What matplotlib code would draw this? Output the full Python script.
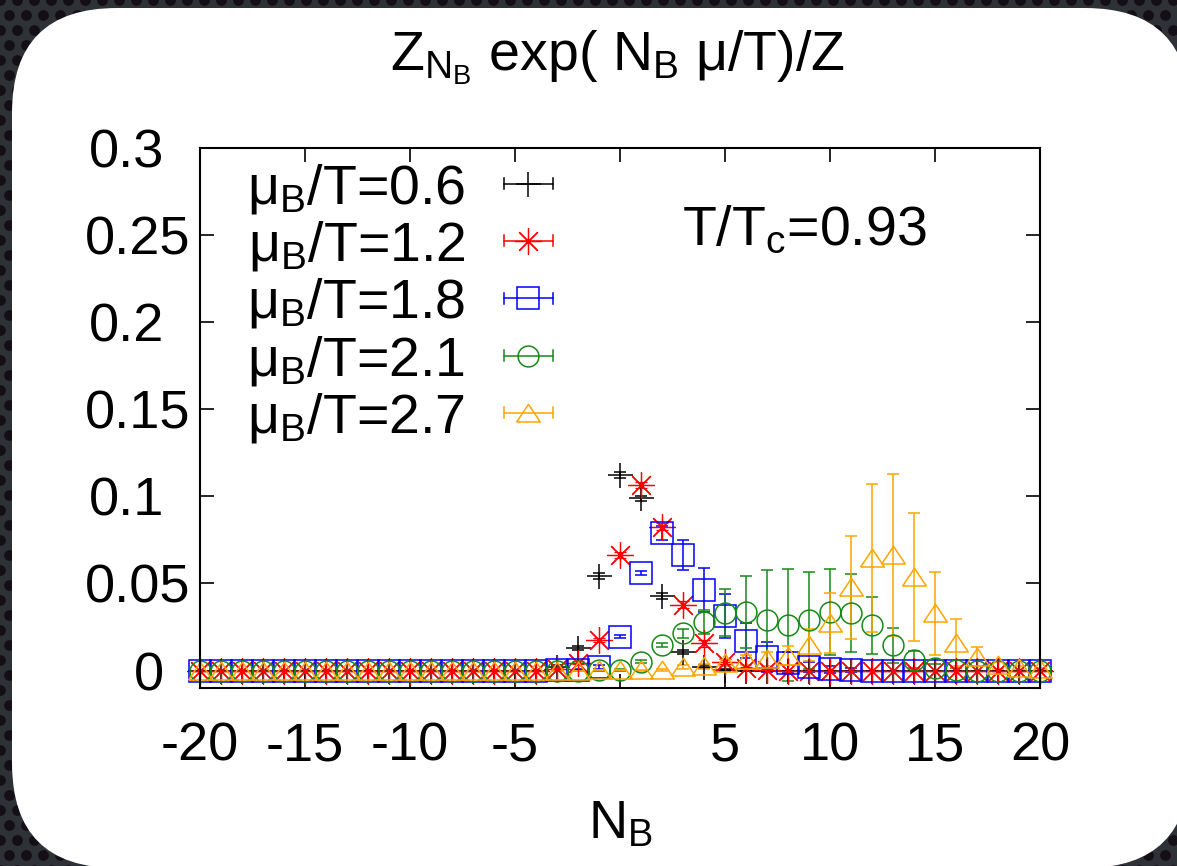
import numpy as np
import matplotlib
matplotlib.use("Agg")
import matplotlib.pyplot as plt
from matplotlib.patches import FancyBboxPatch
from matplotlib.lines import Line2D
from matplotlib.legend_handler import HandlerBase
from matplotlib.transforms import ScaledTranslation

plt.rcParams['font.family'] = ['Liberation Sans', 'DejaVu Sans']
plt.rcParams['mathtext.fontset'] = 'custom'
plt.rcParams['mathtext.rm'] = 'Liberation Sans'
plt.rcParams['mathtext.it'] = 'Liberation Sans:italic'

# ---- data ----
N_B = list(range(-20, 21))

#              -20 ... -4 (17 zeros)          -3      -2      -1      0       1       2       3       4       5       6       7       8       9      10      11      12      13      14      15      16      17      18      19      20
mu06     = [0]*17 + [0.002, 0.013, 0.0543, 0.1123, 0.099, 0.0428, 0.0108, 0.0022, 0.0005, 0, 0, 0, 0, 0, 0, 0, 0, 0, 0, 0, 0, 0, 0, 0]
mu06_err = [0]*17 + [0.001, 0.001, 0.0015, 0.0015, 0.0015, 0.0015, 0.001, 0.001, 0.0005, 0, 0, 0, 0, 0, 0, 0, 0, 0, 0, 0, 0, 0, 0, 0]

mu12     = [0]*17 + [0.001, 0.0045, 0.0176, 0.0664, 0.1066, 0.0826, 0.0377, 0.0157, 0.0051, 0.0013, 0.0004, 0, 0, 0, 0, 0, 0, 0, 0, 0, 0, 0, 0, 0]
mu12_err = [0]*17 + [0.0005, 0.001, 0.001, 0.0015, 0.0015, 0.002, 0.002, 0.002, 0.0015, 0.001, 0.0005, 0, 0, 0, 0, 0, 0, 0, 0, 0, 0, 0, 0, 0]

mu18     = [0]*17 + [0.0002, 0.0006, 0.002, 0.0195, 0.056, 0.079, 0.0664, 0.0463, 0.0313, 0.0172, 0.008, 0.0044, 0.002, 0.0008, 0.0003, 0, 0, 0, 0, 0, 0, 0, 0, 0]
mu18_err = [0]*17 + [0.0002, 0.0005, 0.001, 0.001, 0.001, 0.004, 0.0088, 0.0124, 0.0124, 0.01, 0.0086, 0.006, 0.003, 0.002, 0.001, 0, 0, 0, 0, 0, 0, 0, 0, 0]

mu21     = [0]*17 + [0, 0, 0.0002, 0.0005, 0.005, 0.0147, 0.0214, 0.028, 0.0333, 0.0338, 0.029, 0.0262, 0.0288, 0.0336, 0.033, 0.026, 0.0144, 0.0062, 0.0016, 0.0005, 0, 0, 0, 0]
mu21_err = [0]*17 + [0, 0, 0.0002, 0.0005, 0.0008, 0.001, 0.0027, 0.007, 0.0134, 0.0207, 0.029, 0.032, 0.028, 0.0245, 0.0225, 0.0164, 0.0099, 0.005, 0.002, 0.001, 0, 0, 0, 0]

mu27     = [0]*17 + [0, 0, 0.0002, 0.0002, 0.0002, 0.0005, 0.002, 0.0025, 0.0045, 0.006, 0.0068, 0.0085, 0.0147, 0.0272, 0.0478, 0.0645, 0.0664, 0.0539, 0.0329, 0.016, 0.008, 0.003, 0.0015, 0.0008]
mu27_err = [0]*17 + [0, 0, 0, 0, 0.0002, 0.0005, 0.001, 0.0015, 0.002, 0.003, 0.004, 0.0054, 0.009, 0.0172, 0.0294, 0.0425, 0.0463, 0.0367, 0.0239, 0.0134, 0.0054, 0.002, 0.001, 0.0005]

labels = ['0.6', '1.2', '1.8', '2.1', '2.7']
colors = ['black', '#ff0000', '#0000ff', '#168a16', '#ffa500']
tri = [(-1, -0.72), (1, -0.72), (0, 0.78), (-1, -0.72)]
markers = ['+', (8, 2, 0), 's', 'o', tri]
sizes = [18, 19, 16, 15, 17]

yticks = [0, 0.05, 0.1, 0.15, 0.2, 0.25, 0.3]
ytick_labels = ['0', '0.05', '0.1', '0.15', '0.2', '0.25', '0.3']
xticks = [-20, -15, -10, -5, 0, 5, 10, 15, 20]
xtick_labels = ['-20', '-15', '-10', '-5', '', '5', '10', '15', '20']

FS = 39


class HandlerGnu(HandlerBase):
    # gnuplot style key sample: horizontal bar with end caps and the point
    def create_artists(self, legend, orig, xdescent, ydescent, width, height, fontsize, trans):
        c = orig.get_color()
        y = (height - ydescent) / 2.0
        x0, x1 = -xdescent, width - xdescent
        cap = 4.0
        arts = [Line2D([x0, x1], [y, y], color=c, lw=1.1),
                Line2D([x0, x0], [y - cap, y + cap], color=c, lw=1.1),
                Line2D([x1, x1], [y - cap, y + cap], color=c, lw=1.1),
                Line2D([(x0 + x1) / 2], [y], marker=orig.get_marker(), ms=orig.get_markersize(),
                       mfc='none', mec=c, mew=orig.get_markeredgewidth(), ls='none')]
        for a in arts:
            a.set_transform(trans)
        return arts


fig = plt.figure(figsize=(11.77, 8.66), dpi=100)
fig.patch.set_facecolor('#2e3236')

# background: dark perforated texture + white rounded card
bg = fig.add_axes([0, 0, 1, 1], zorder=-1)
bg.set_xlim(0, 1177)
bg.set_ylim(866, 0)
bg.axis('off')
gx, gy = np.meshgrid(np.arange(0, 1190, 17.0), np.arange(0, 880, 15.0))
gx = gx + (np.arange(gy.shape[0])[:, None] % 2) * 8.5
bg.scatter(gx.ravel(), gy.ravel(), s=60, color='#140e17', linewidths=0, zorder=0)
bg.add_patch(FancyBboxPatch((12, 8), 1178, 860, boxstyle='round,pad=0,rounding_size=105',
                            facecolor='white', edgecolor='none', zorder=1))

ax = fig.add_axes([200 / 1177, 1 - 688 / 866, 840 / 1177, 540 / 866], zorder=1)
ax.set_facecolor('none')

series = [(mu06, mu06_err), (mu12, mu12_err), (mu18, mu18_err), (mu21, mu21_err), (mu27, mu27_err)]
handles = []
for (vals, errs), c, m, ms in zip(series, colors, markers, sizes):
    mew = 0.9 if m == markers[1] else 1.1
    cont = ax.errorbar(N_B, vals, yerr=errs, linestyle='none',
                       marker=m, ms=ms, mfc='none', mec=c, mew=mew, color=c,
                       ecolor=c, elinewidth=1.1, capsize=4.5, capthick=1.1)
    line, caps, bars = cont.lines
    line.set_clip_on(False)
    for a in list(caps) + list(bars):
        a.set_clip_on(False)
    handles.append(line)

ax.set_xlim(-20, 20)
ax.set_ylim(-0.01, 0.3)
ax.set_xticks(xticks)
ax.set_xticklabels(xtick_labels)
ax.set_yticks(yticks)
ax.set_yticklabels(ytick_labels)
ax.tick_params(direction='in', length=10, width=1.2, top=True, right=True,
               labelsize=FS, pad=7)
ax.tick_params(axis='x', pad=24)
for sp in ax.spines.values():
    sp.set_linewidth(1.5)

# gnuplot right-justified the short labels one digit further left
for lab in ax.get_yticklabels():
    if len(lab.get_text()) < 4:
        lab.set_transform(lab.get_transform() + ScaledTranslation(-0.26, 0, fig.dpi_scale_trans))

ax.set_xlabel('N$_\\mathrm{B}$', fontsize=FS, labelpad=20)
fig.text(617 / 1177, 1 - 70 / 866, 'Z$_{\\mathrm{N}_{\\mathrm{B}}}$ exp( N$_\\mathrm{B}$ \u03bc/T)/Z',
         fontsize=40, ha='center', va='baseline')
ax.text(0.574, 0.82, 'T/T$_\\mathrm{c}$=0.93', transform=ax.transAxes,
        fontsize=40, ha='left', va='baseline')

ax.legend(handles, ['\u03bc$_\\mathrm{B}$/T=' + l for l in labels],
          handler_map={Line2D: HandlerGnu()}, loc='upper left',
          bbox_to_anchor=(47 / 840, 0.975), frameon=False, markerfirst=False,
          prop={'size': 40}, handlelength=0.87, handletextpad=0.7, labelspacing=0.06,
          borderpad=0, borderaxespad=0)

fig.savefig('out.png', dpi=100, facecolor=fig.get_facecolor())
